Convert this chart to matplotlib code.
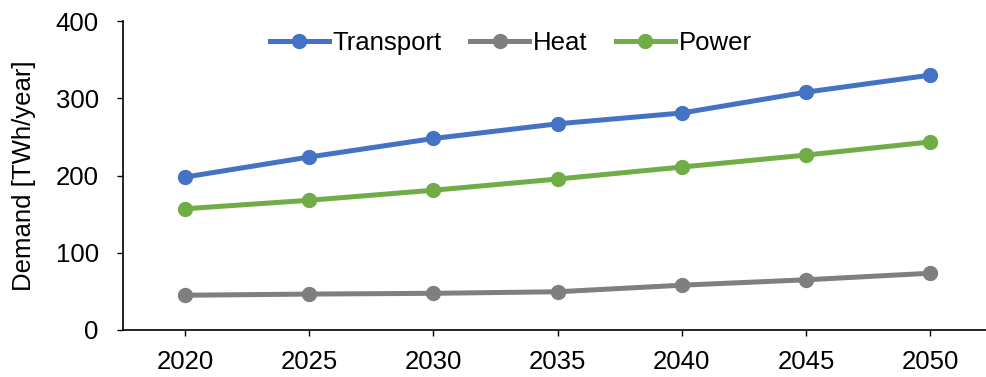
import numpy as np
import matplotlib.pyplot as plt

plt.rcParams['font.family'] = ['Liberation Sans', 'DejaVu Sans']

years = ['2020', '2025', '2030', '2035', '2040', '2045', '2050']
transport = [198, 224, 248, 267, 281, 308, 330]
heat = [45, 46.5, 47.5, 49.5, 58, 65, 73.5]
power = [157, 168, 181, 195.5, 211, 226.5, 243.5]

fig, ax = plt.subplots(figsize=(9.86, 3.77), dpi=100)
fig.subplots_adjust(left=0.1247, right=1.0, top=0.944, bottom=0.1247)

x = np.arange(len(years))
ax.plot(x, transport, color='#4472C4', lw=3.6, marker='o', ms=10, label='Transport')
ax.plot(x, heat, color='#7F7F7F', lw=3.6, marker='o', ms=10, label='Heat')
ax.plot(x, power, color='#70AD47', lw=3.6, marker='o', ms=10, label='Power')

# the plot area runs slightly past the right edge of the canvas
ax.set_xlim(-0.5, len(years) - 0.55)
ax.set_ylim(0, 400)
ax.set_yticks([0, 100, 200, 300, 400])
ax.set_xticks(x)
ax.set_xticklabels(years)
ax.tick_params(labelsize=18.5, width=1, length=4.5, color='black')
ax.tick_params(axis='x', pad=10)
ax.tick_params(axis='y', pad=13)
ax.set_ylabel('Demand [TWh/year]', fontsize=18.5, labelpad=14)

for s in ['top', 'right']:
    ax.spines[s].set_visible(False)
for s in ['left', 'bottom']:
    ax.spines[s].set_linewidth(1.2)

ax.legend(loc='center left', bbox_to_anchor=(257 / 986, 1 - 43 / 377),
          bbox_transform=fig.transFigure, ncol=3, frameon=False, borderpad=0,
          fontsize=18.5, handlelength=2.3, columnspacing=1.1, handletextpad=0.15)

fig.savefig('out.png')
